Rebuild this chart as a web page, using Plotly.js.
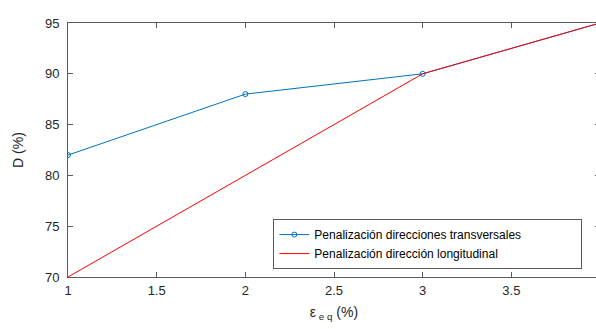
<!DOCTYPE html>
<html>
<head>
<meta charset="utf-8">
<script src="https://cdn.plot.ly/plotly-3.0.1.min.js"></script>
<style>
  html, body { margin: 0; padding: 0; overflow: hidden; background: #fff; }
  #chart { width: 602px; height: 329px; }
</style>
</head>
<body>
<div id="chart"></div>
<script>
// Strain levels (%) and resulting D (%) for each penalization scheme
const strain = [1, 2, 3, 4];
const transversal = [82, 88, 90, 95];
const longitudinal = [70, 80, 90, 95];
const seriesNames = ['Penalización direcciones transversales', 'Penalización dirección longitudinal'];
const xTicks = [1, 1.5, 2, 2.5, 3, 3.5, 4];
const yTicks = [70, 75, 80, 85, 90, 95];

const font = 'Liberation Sans, Arial, sans-serif';
const axisColor = '#5a5a5a';

const traces = [
  {
    x: strain, y: transversal, name: seriesNames[0],
    mode: 'lines+markers',
    line: { color: '#0072BD', width: 1 },
    marker: { symbol: 'circle-open', size: 5, color: '#0072BD', line: { width: 1 } }
  },
  {
    x: strain, y: longitudinal, name: seriesNames[1],
    mode: 'lines',
    line: { color: '#FF0000', width: 1 }
  }
];

const axisBase = {
  showgrid: false, zeroline: false,
  showline: true, linecolor: axisColor, linewidth: 1, mirror: 'ticks',
  ticks: 'inside', ticklen: 5, tickcolor: axisColor, tickwidth: 1,
  tickfont: { family: font, size: 13, color: '#262626' }
};

const layout = {
  width: 602, height: 329,
  margin: { l: 68, r: 2, t: 23, b: 52 },
  paper_bgcolor: '#fff', plot_bgcolor: '#fff',
  font: { family: font, color: '#262626' },
  showlegend: true,
  xaxis: Object.assign({}, axisBase, {
    range: [1, 4], tickvals: xTicks, ticktext: xTicks.map(String),
    ticklabelstandoff: 1,
    title: { text: 'ε<sub> e q</sub> (%)', font: { family: font, size: 14, color: '#262626' }, standoff: 10 }
  }),
  yaxis: Object.assign({}, axisBase, {
    range: [70, 95], tickvals: yTicks, ticktext: yTicks.map(String),
    ticklabelstandoff: 5,
    title: { text: 'D (%)', font: { family: font, size: 14, color: '#262626' }, standoff: 18 }
  }),
  legend: {
    orientation: 'h',
    x: 0.386, y: 0.228, xanchor: 'left', yanchor: 'top',
    bgcolor: '#fff', bordercolor: axisColor, borderwidth: 1,
    font: { family: font, size: 12, color: '#000' },
    itemwidth: 30, tracegroupgap: 2,
    entrywidth: 262, entrywidthmode: 'pixels'
  }
};

Plotly.newPlot('chart', traces, layout, { staticPlot: true, displayModeBar: false });
</script>
</body>
</html>
